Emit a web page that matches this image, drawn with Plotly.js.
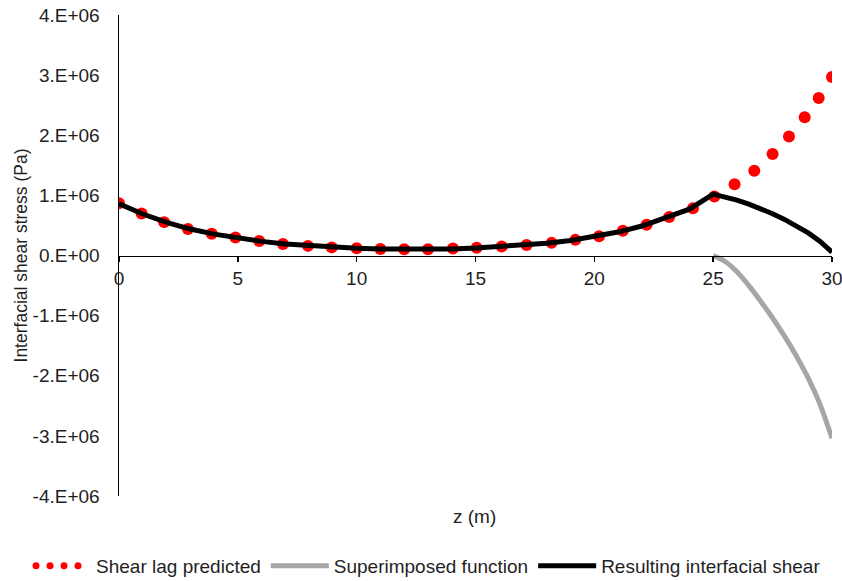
<!DOCTYPE html>
<html><head><meta charset="utf-8">
<script src="https://cdn.plot.ly/plotly-3.0.1.min.js"></script>
<style>html,body{margin:0;padding:0;background:#fff}#chart{width:842px;height:581px}</style>
</head><body><div id="chart"></div>
<script>
// Shear lag predicted (red dots)
const zShearLag = [0, 0.95, 1.9, 2.9, 3.9, 4.9, 5.9, 6.9, 7.95, 8.95, 10, 11, 12, 13, 14.05, 15.05, 16.1, 17.15, 18.2, 19.2, 20.2, 21.2, 22.2, 23.15, 24.15, 25.05, 25.9, 26.73, 27.5, 28.19, 28.85, 29.44, 30];
const tauShearLag = [0.87e6, 0.70e6, 0.555e6, 0.44e6, 0.36e6, 0.30e6, 0.24e6, 0.19e6, 0.16e6, 0.135e6, 0.12e6, 0.11e6, 0.105e6, 0.105e6, 0.115e6, 0.13e6, 0.15e6, 0.175e6, 0.21e6, 0.26e6, 0.32e6, 0.41e6, 0.51e6, 0.64e6, 0.785e6, 0.98e6, 1.185e6, 1.41e6, 1.69e6, 1.98e6, 2.30e6, 2.62e6, 2.97e6];
// Superimposed function (grey)
const zSuper = [25, 25.5, 26, 26.5, 27, 27.5, 28, 28.5, 29, 29.5, 30];
const tauSuper = [0, -0.10e6, -0.27e6, -0.50e6, -0.76e6, -1.04e6, -1.34e6, -1.67e6, -2.04e6, -2.48e6, -3.04e6];
// Resulting interfacial shear (black)
const zResult = [0, 1, 2, 3, 4, 5, 6, 7, 8, 9, 10, 11, 12, 13, 14, 15, 16, 17, 18, 19, 20, 21, 22, 23, 24, 25, 25.5, 26, 26.5, 27, 27.5, 28, 28.5, 29, 29.5, 30];
const tauResult = [0.86e6, 0.69e6, 0.55e6, 0.44e6, 0.355e6, 0.29e6, 0.235e6, 0.19e6, 0.16e6, 0.135e6, 0.12e6, 0.11e6, 0.105e6, 0.105e6, 0.11e6, 0.125e6, 0.145e6, 0.17e6, 0.205e6, 0.25e6, 0.31e6, 0.39e6, 0.49e6, 0.62e6, 0.77e6, 1.02e6, 0.975e6, 0.92e6, 0.855e6, 0.78e6, 0.695e6, 0.60e6, 0.495e6, 0.375e6, 0.235e6, 0.055e6];

const seriesNames = ['Shear lag predicted', 'Superimposed function', 'Resulting interfacial shear'];
const xTickVals = [0, 5, 10, 15, 20, 25, 30];
const yTickVals = [-4e6, -3e6, -2e6, -1e6, 0, 1e6, 2e6, 3e6, 4e6];
const yTickText = ['-4.E+06', '-3.E+06', '-2.E+06', '-1.E+06', '0.E+00', '1.E+06', '2.E+06', '3.E+06', '4.E+06'];
const xTitle = 'z (m)';
const yTitle = 'Interfacial shear stress (Pa)';

const FONT = 'Liberation Sans, Arial, sans-serif';
const TXT = '#1f1f1f';

const traces = [
  {x: zShearLag, y: tauShearLag, name: seriesNames[0], type: 'scatter', mode: 'lines+markers',
   marker: {color: '#FF0000', size: 12}, line: {color: 'rgba(255,0,0,0)', width: 6}},
  {x: zSuper, y: tauSuper, name: seriesNames[1], type: 'scatter', mode: 'lines',
   line: {color: '#A6A6A6', width: 5, shape: 'spline', smoothing: 0.8}},
  {x: zResult, y: tauResult, name: seriesNames[2], type: 'scatter', mode: 'lines',
   line: {color: '#000000', width: 5}}
];

const layout = {
  width: 842, height: 581,
  margin: {l: 119, r: 10, t: 15, b: 85, autoexpand: false},
  paper_bgcolor: '#ffffff', plot_bgcolor: '#ffffff',
  font: {family: FONT, size: 19, color: TXT},
  showlegend: true,
  legend: {orientation: 'h', xref: 'paper', yref: 'paper', x: -0.1276, xanchor: 'left', y: -0.1455, yanchor: 'middle',
           itemwidth: 58, font: {family: FONT, size: 19, color: TXT}, traceorder: 'normal'},
  xaxis: {range: [0, 30], anchor: 'free', position: 0.5, showline: true, linecolor: '#000', linewidth: 1.8,
          ticks: 'outside', ticklen: 5, tickwidth: 1.5, tickcolor: '#000', tickvals: xTickVals,
          ticklabeloverflow: 'allow',
          showgrid: false, zeroline: false, tickfont: {family: FONT, size: 19, color: TXT}},
  yaxis: {range: [-4e6, 4e6], showline: true, linecolor: '#000', linewidth: 1.5, ticks: '',
          tickvals: yTickVals, ticktext: yTickText, showgrid: false, zeroline: false,
          ticklabelstandoff: 14, tickfont: {family: FONT, size: 19, color: TXT},
          title: {text: yTitle, font: {family: FONT, size: 17.5, color: TXT}}},
  annotations: [{text: xTitle, xref: 'paper', yref: 'paper', x: 0.499, y: -0.043, xanchor: 'center', yanchor: 'middle',
                 showarrow: false, font: {family: FONT, size: 19, color: TXT}}]
};

Plotly.newPlot('chart', traces, layout, {displayModeBar: false, staticPlot: true}).then(function () {
  const items = document.querySelectorAll('.legend .traces');
  if (items.length) {
    const first = items[0];
    const ln = first.querySelector('path.js-line');
    if (ln) {
      ln.setAttribute('d', 'M8,0h44');
      ln.style.stroke = '#FF0000';
      ln.style.strokeWidth = '7px';
      ln.style.strokeDasharray = '0,14';
      ln.style.strokeLinecap = 'round';
      ln.style.strokeOpacity = '1';
    }
    first.querySelectorAll('.legendpoints path').forEach(function (p) { p.style.display = 'none'; });
  }
});
</script>
</body></html>
